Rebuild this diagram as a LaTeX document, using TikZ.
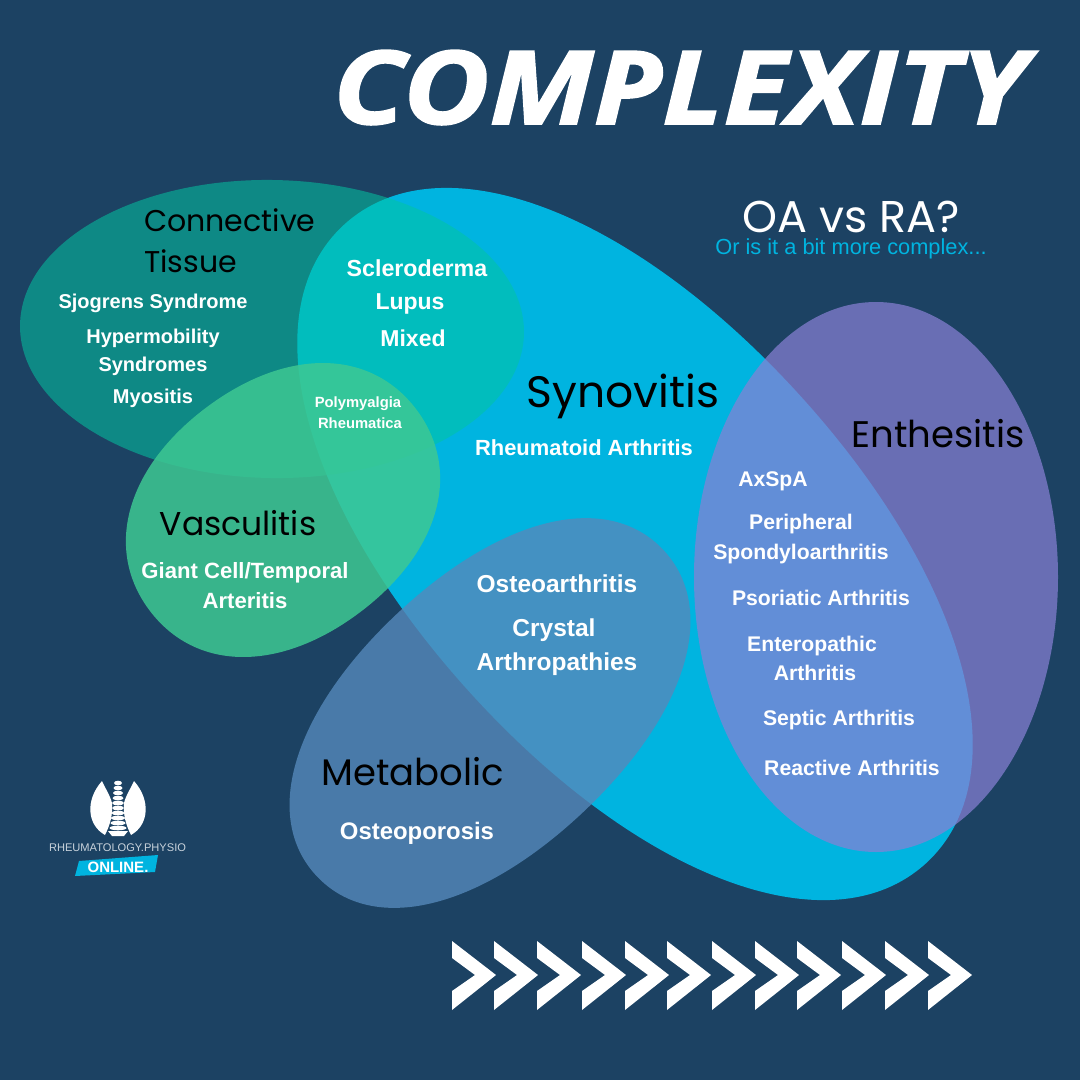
\documentclass[tikz,border=0pt]{standalone}
\usepackage{fontspec}
\usepackage{graphicx}
\setmainfont{Liberation Sans}
\newfontfamily\headfont{Poppins}
\newfontfamily\titlefont[FakeBold=1.5]{Open Sans Bold Italic}
\definecolor{bgc}{HTML}{1C4263}
\definecolor{synoc}{HTML}{00B4E0}
\definecolor{connc}{HTML}{03C5A2}
\definecolor{vascc}{HTML}{3EC893}
\definecolor{metac}{HTML}{5589BB}
\definecolor{enthc}{HTML}{8880D4}
\definecolor{logoc}{HTML}{C9D3DC}
\tikzset{
  lab/.style={text=white,anchor=base,inner sep=0pt,font=\bfseries\fontsize{#1}{#1}\selectfont},
  head/.style={text=black,anchor=base,inner sep=0pt,font=\headfont\fontsize{#1}{#1}\selectfont},
  chev/.style={fill=white},
}
% #1 options, #2 cx, #3 cy, #4 a, #5 b, #6 angle, #7 handle factor
\newcommand{\blobshape}[7]{%
  \pgfmathsetmacro{\ha}{#4*#7}\pgfmathsetmacro{\hb}{#5*#7}%
  \fill[#1,shift={(#2,#3)},rotate=#6] (#4,0) .. controls (#4,\hb) and (\ha,#5) .. (0,#5)
    .. controls (-\ha,#5) and (-#4,\hb) .. (-#4,0)
    .. controls (-#4,-\hb) and (-\ha,-#5) .. (0,-#5)
    .. controls (\ha,-#5) and (#4,-\hb) .. (#4,0) -- cycle;}
\begin{document}
\begin{tikzpicture}[x=1pt,y=-1pt]
\useasboundingbox (0,0) rectangle (1080,1080);
\fill[bgc] (0,0) rectangle (1080,1080);
% blobs
\blobshape{synoc}{635}{544}{432}{222}{-47.7}{.58}
\blobshape{connc,fill opacity=.55}{272}{329}{252}{149}{-1}{.5523}
\blobshape{enthc,fill opacity=.72}{876}{577}{182}{275}{0}{.5523}
\blobshape{metac,fill opacity=.8}{490}{713}{238}{136}{43.3}{.6}
\blobshape{vascc,fill opacity=.85}{283}{510}{167}{128}{37}{.6}
% title
\node[text=white,inner sep=0pt,anchor=base] (title) at (680,124) {\scalebox{1.16}[1]{\titlefont\fontsize{102}{102}\selectfont COMPLEXITY}};
\node[text=white,inner sep=0pt,anchor=base] (oaq) at (851,232) {\headfont\fontsize{44.5}{44.5}\selectfont OA vs RA?};
\node[text=synoc,inner sep=0pt,anchor=base] (oasub) at (851,254) {\fontsize{21.8}{21.8}\selectfont Or is it a bit more complex...};
% headings
\node[head=30,anchor=base west] (h1) at (144,231) {Connective};
\node[head=30,anchor=base west] (h2) at (144,272) {Tissue};
\node[head=44] (h3) at (623,407) {Synovitis};
\node[head=37] (h4) at (938,447) {Enthesitis};
\node[head=33] (h5) at (238,535) {Vasculitis};
\node[head=37] (h6) at (413,785) {Metabolic};
% labels
\node[lab=20] (a1) at (153,308) {Sjogrens Syndrome};
\node[lab=20] (a2) at (153,343) {Hypermobility};
\node[lab=20] (a3) at (153,371) {Syndromes};
\node[lab=20] (a4) at (153,403) {Myositis};
\node[lab=23.2] (b1) at (417,276) {Scleroderma};
\node[lab=23] (b2) at (410,309) {Lupus};
\node[lab=23] (b3) at (413,346) {Mixed};
\node[lab=14.8] (c1) at (358,407) {Polymyalgia};
\node[lab=14.8] (c2) at (360,428) {Rheumatica};
\node[lab=21.9] (d1) at (584,455) {Rheumatoid Arthritis};
\node[lab=22.1] (e1) at (245,578) {Giant Cell/Temporal};
\node[lab=22.1] (e2) at (245,608) {Arteritis};
\node[lab=24.5] (f1) at (557,592) {Osteoarthritis};
\node[lab=24.5] (f2) at (554,636) {Crystal};
\node[lab=24.5] (f3) at (557,670) {Arthropathies};
\node[lab=23.9] (g1) at (417,839) {Osteoporosis};
\node[lab=21.2] (i1) at (773,486) {AxSpA};
\node[lab=21.2] (i2) at (801,529) {Peripheral};
\node[lab=21.2] (i3) at (801,559) {Spondyloarthritis};
\node[lab=21.2] (i4) at (821,605) {Psoriatic Arthritis};
\node[lab=21.2] (i5) at (812,651) {Enteropathic};
\node[lab=21.2] (i6) at (815,680) {Arthritis};
\node[lab=21.2] (i7) at (839,725) {Septic Arthritis};
\node[lab=21.2] (i8) at (852,775) {Reactive Arthritis};
% chevrons
\foreach \cx in {452,494,537,582,625,667,712,755,797,842,885,928}
  \fill[chev,shift={(\cx,0)}] (0,941) -- (44,975) -- (0,1010) -- (0,991) -- (23,975) -- (0,958) -- cycle;
% logo
\fill[white] (102,781) .. controls (85,800) and (87,825) .. (105,835) .. controls (110,825) and (113,815) .. (112,803) .. controls (110,795) and (105,788) .. (102,781) -- cycle;
\fill[white] (134,781) .. controls (151,800) and (149,825) .. (131,835) .. controls (126,825) and (123,815) .. (124,803) .. controls (126,795) and (131,788) .. (134,781) -- cycle;
\foreach \vy/\vw in {783/4,788/4.5,793/5,798/5.5,803/6,808/6,813/6.5,818/7,823/7.5,828/8.5}
  \fill[white] (118,\vy) ellipse [x radius=\vw,y radius=2.3];
\fill[white] (108,831) -- (128,831) -- (124,836) -- (112,836) -- cycle;
\node[text=logoc,inner sep=0pt,anchor=base] (logot) at (117.5,851) {\fontsize{11.1}{11.1}\selectfont RHEUMATOLOGY.PHYSIO};
\fill[synoc] (79,861) -- (158,855) -- (155,872) -- (75,876) -- cycle;
\node[text=white,inner sep=0pt,anchor=base] (logob) at (118,872) {\bfseries\fontsize{15}{15}\selectfont ONLINE.};
\end{tikzpicture}
\end{document}
